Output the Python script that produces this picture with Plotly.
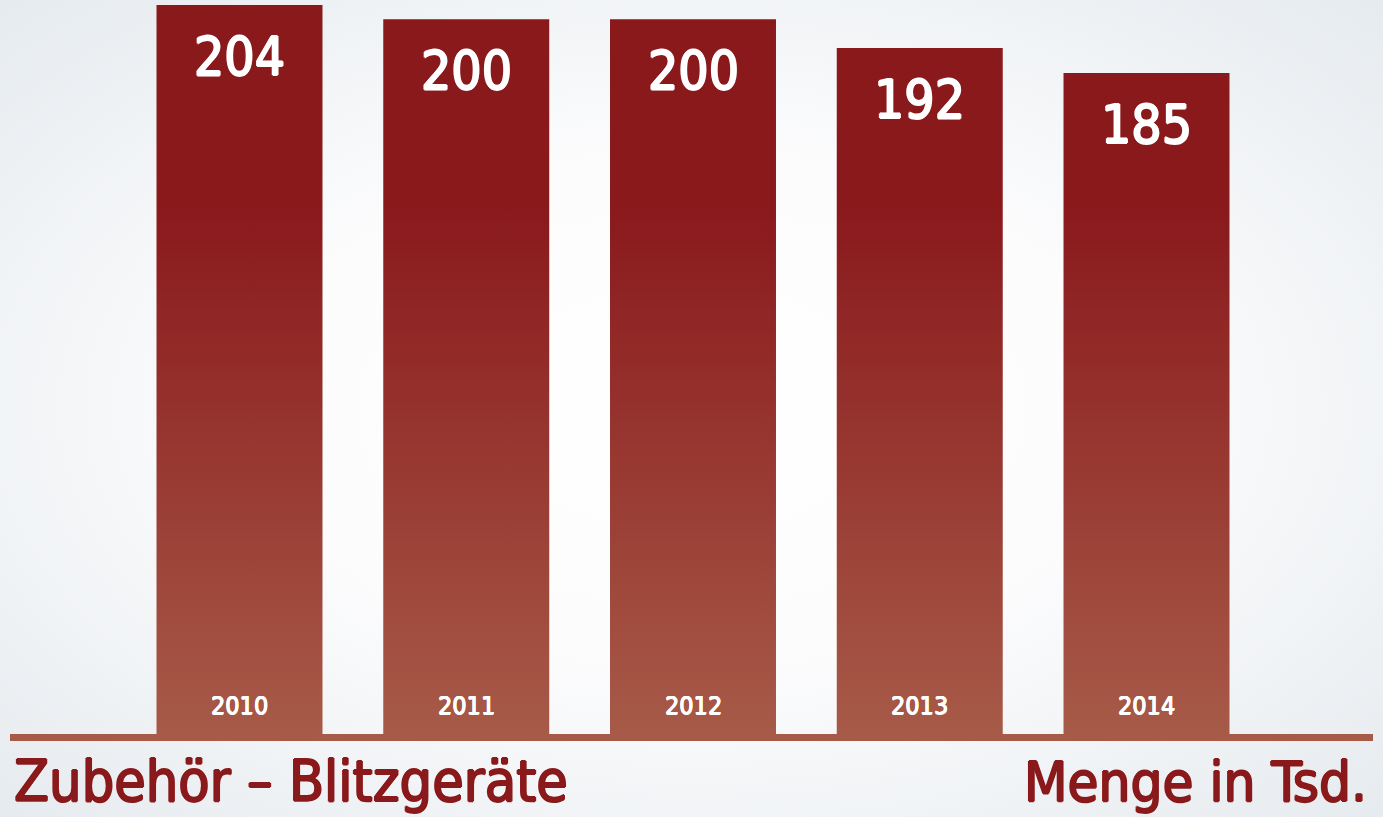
import base64
import plotly.graph_objects as go

# ---- data ----
years = ["2010", "2011", "2012", "2013", "2014"]
values = [204, 200, 200, 192, 185]
value_labels = ["204", "200", "200", "192", "185"]
title_left = "Zubehör – Blitzgeräte"
title_right = "Menge in Tsd."

# ---- style ----
W, H = 1383, 817
BAR_W = 0.732
DARK = "#8a191c"
LIGHT = "#a75a48"
FONT = "DejaVu Sans Condensed, DejaVu Sans, sans-serif"


def emb(color, d=0.9):
    return (f"{d}px 0 0 {color}, -{d}px 0 0 {color}, 0 {d}px 0 {color}, 0 -{d}px 0 {color}")


fig = go.Figure()

ymax = max(values)
for i, (yr, v) in enumerate(zip(years, values)):
    x0, x1 = i - BAR_W / 2, i + BAR_W / 2
    fig.add_trace(go.Scatter(
        x=[x0, x1, x1, x0, x0], y=[0, 0, v, v, 0],
        mode="lines", line=dict(width=0, color=DARK),
        fill="toself",
        fillgradient=dict(type="vertical",
                          colorscale=[[0, LIGHT], [0.72, DARK], [1, DARK]],
                          start=0, stop=ymax),
        hoverinfo="skip", showlegend=False,
    ))
    fig.add_annotation(x=i, y=v, xref="x", yref="y", text=value_labels[i],
                       showarrow=False, yanchor="top", yshift=-19,
                       font=dict(family=FONT, size=53, color="white",
                                 shadow=emb("white", 1.0)))
    fig.add_annotation(x=i, y=0, xref="x", yref="y", text=yr,
                       showarrow=False, yanchor="bottom", yshift=12,
                       font=dict(family=FONT, size=25, color="white",
                                 shadow=emb("white", 0.5)))

# background radial gradient
svg = f'''<svg xmlns="http://www.w3.org/2000/svg" width="{W}" height="{H}" viewBox="0 0 {W} {H}" preserveAspectRatio="none">
<defs><radialGradient id="g" cx="50%" cy="50%" r="70%">
<stop offset="0" stop-color="#ffffff"/><stop offset="0.45" stop-color="#fcfcfd"/>
<stop offset="1" stop-color="#e6ebef"/></radialGradient></defs>
<rect width="{W}" height="{H}" fill="url(#g)"/></svg>'''
src = "data:image/svg+xml;base64," + base64.b64encode(svg.encode()).decode()

fig.add_layout_image(dict(source=src, xref="paper", yref="paper", x=0, y=1,
                          sizex=1, sizey=1, sizing="stretch", layer="below",
                          xanchor="left", yanchor="top"))

# baseline
fig.add_shape(type="line", xref="paper", yref="paper",
              x0=10 / W, x1=1373 / W, y0=1 - 737.5 / H, y1=1 - 737.5 / H,
              line=dict(color=LIGHT, width=7))

fig.add_annotation(xref="paper", yref="paper", x=12 / W, y=1 - 781 / H,
                   text=title_left, showarrow=False, xanchor="left", yanchor="middle",
                   font=dict(family=FONT, size=57, color=DARK, shadow=emb(DARK, 1.0)))
fig.add_annotation(xref="paper", yref="paper", x=1369 / W, y=1 - 781 / H,
                   text=title_right, showarrow=False, xanchor="right", yanchor="middle",
                   font=dict(family=FONT, size=56, color=DARK, shadow=emb(DARK, 1.0)))

ppu = (734 - 5) / ymax
spacing = 226.75
x_lo = -239.5 / spacing
fig.update_layout(
    width=W, height=H, margin=dict(l=0, r=0, t=0, b=0),
    paper_bgcolor="rgba(0,0,0,0)", plot_bgcolor="rgba(0,0,0,0)",
    xaxis=dict(range=[x_lo, x_lo + W / spacing], visible=False, fixedrange=True),
    yaxis=dict(range=[-(H - 734) / ppu, ymax + 5 / ppu], visible=False, fixedrange=True),
    showlegend=False,
)

fig.write_html("out.html", config={"displayModeBar": False},
               post_script="document.body.style.margin='0';document.body.style.overflow='hidden';")
